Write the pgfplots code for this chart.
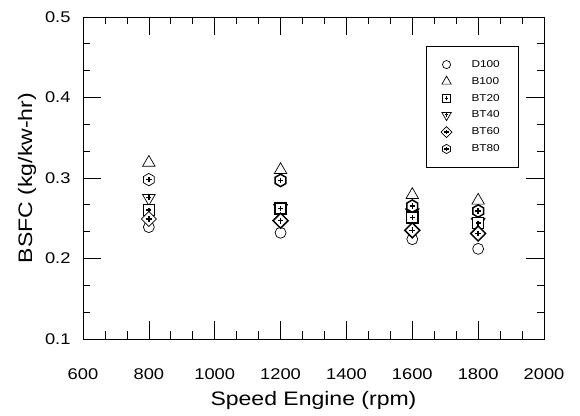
\documentclass[border=0pt]{standalone}
\usepackage{pgfplots}
\pgfplotsset{compat=1.18}
\usepackage{fontspec}
\setmainfont{Liberation Sans}[FakeStretch=1.18]

\newcommand{\innerplus}{%
  \pgfsetlinewidth{1.5pt}%
  \pgfpathmoveto{\pgfpoint{-0.45\pgfplotmarksize}{0pt}}%
  \pgfpathlineto{\pgfpoint{0.45\pgfplotmarksize}{0pt}}%
  \pgfpathmoveto{\pgfpoint{0pt}{-0.45\pgfplotmarksize}}%
  \pgfpathlineto{\pgfpoint{0pt}{0.45\pgfplotmarksize}}%
  \pgfusepathqstroke}
\pgfdeclareplotmark{sqp}{%
  \pgfpathrectangle{\pgfpoint{-\pgfplotmarksize}{-\pgfplotmarksize}}{\pgfpoint{2\pgfplotmarksize}{2\pgfplotmarksize}}%
  \pgfusepathqfillstroke\innerplus}
\pgfdeclareplotmark{itp}{%
  \pgfpathmoveto{\pgfqpointpolar{270}{1.2\pgfplotmarksize}}%
  \pgfpathlineto{\pgfqpointpolar{30}{1.2\pgfplotmarksize}}%
  \pgfpathlineto{\pgfqpointpolar{150}{1.2\pgfplotmarksize}}%
  \pgfpathclose\pgfusepathqfillstroke
  \pgfsetlinewidth{1.4pt}%
  \pgfpathmoveto{\pgfpoint{-0.4\pgfplotmarksize}{0.15\pgfplotmarksize}}%
  \pgfpathlineto{\pgfpoint{0.4\pgfplotmarksize}{0.15\pgfplotmarksize}}%
  \pgfpathmoveto{\pgfpoint{0pt}{-0.35\pgfplotmarksize}}%
  \pgfpathlineto{\pgfpoint{0pt}{0.55\pgfplotmarksize}}%
  \pgfusepathqstroke}
\pgfdeclareplotmark{dmp}{%
  \pgfpathmoveto{\pgfqpoint{0pt}{1.15\pgfplotmarksize}}%
  \pgfpathlineto{\pgfqpoint{1.15\pgfplotmarksize}{0pt}}%
  \pgfpathlineto{\pgfqpoint{0pt}{-1.15\pgfplotmarksize}}%
  \pgfpathlineto{\pgfqpoint{-1.15\pgfplotmarksize}{0pt}}%
  \pgfpathclose\pgfusepathqfillstroke\innerplus}
\pgfdeclareplotmark{hxp}{%
  \pgfpathmoveto{\pgfqpointpolar{90}{\pgfplotmarksize}}%
  \pgfpathlineto{\pgfqpointpolar{150}{\pgfplotmarksize}}%
  \pgfpathlineto{\pgfqpointpolar{210}{\pgfplotmarksize}}%
  \pgfpathlineto{\pgfqpointpolar{270}{\pgfplotmarksize}}%
  \pgfpathlineto{\pgfqpointpolar{330}{\pgfplotmarksize}}%
  \pgfpathlineto{\pgfqpointpolar{30}{\pgfplotmarksize}}%
  \pgfpathclose\pgfusepathqfillstroke\innerplus}

\begin{document}
\begin{tikzpicture}
\begin{axis}[
  name=ax,
  scale only axis,
  width=461pt, height=322pt,
  xmin=600, xmax=2000, ymin=0.1, ymax=0.5,
  xtick={600,800,...,2000},
  ytick={0.1,0.2,...,0.5},
  minor x tick num=2, minor y tick num=2,
  tick align=inside,
  major tick length=18pt, minor tick length=7.5pt,
  every tick/.style={black, line width=0.7pt},
  axis line style={line width=0.8pt},
  /pgf/number format/assume math mode=true,
  xticklabel style={font=\fontsize{15.5}{18}\selectfont, yshift=-26pt},
  yticklabel style={font=\fontsize{15.5}{18}\selectfont, xshift=-9pt},
  y tick label style={/pgf/number format/.cd, fixed, fixed zerofill, precision=1},
  scaled y ticks=false,
  x tick label style={/pgf/number format/.cd, set thousands separator={}},
  xlabel={Speed Engine (rpm)},
  ylabel={BSFC (kg/kw-hr)},
  xlabel style={font=\fontsize{19.5}{22}\selectfont, yshift=-5pt},
  ylabel style={font=\fontsize{19.5}{22}\selectfont, yshift=2pt},
  legend style={at={(0.946,0.910)}, anchor=north east, font=\fontsize{10}{12}\selectfont,
    draw=black, line width=0.7pt, inner xsep=8pt, inner ysep=12pt, row sep=4.4pt,
    cells={anchor=west}},
  legend image code/.code={\path[draw=none] (0pt,0pt) -- (35pt,0pt); \path[#1, draw=none, every mark/.append style={draw=black, fill=white, scale=0.74}] plot coordinates {(12pt,0pt)};},
  every axis plot/.append style={only marks, line width=0.7pt, mark options={fill=white, draw=black}},
]
% legend entries (in legend order)
\addlegendimage{only marks, line width=0.7pt, mark=o, mark size=5.5pt}
\addlegendentry{D100\hspace*{9pt}}
\addlegendimage{only marks, line width=0.7pt, mark=triangle*, mark size=7.2pt}
\addlegendentry{B100\hspace*{9pt}}
\addlegendimage{only marks, line width=0.7pt, mark=sqp, mark size=5.6pt}
\addlegendentry{BT20\hspace*{9pt}}
\addlegendimage{only marks, line width=0.7pt, mark=itp, mark size=6.1pt}
\addlegendentry{BT40\hspace*{9pt}}
\addlegendimage{only marks, line width=0.7pt, mark=dmp, mark size=6.5pt}
\addlegendentry{BT60\hspace*{9pt}}
\addlegendimage{only marks, line width=0.7pt, mark=hxp, mark size=6.2pt}
\addlegendentry{BT80\hspace*{9pt}}
% data (drawing order)
\addplot[forget plot, mark=o, mark size=5.5pt] coordinates {(800,0.239) (1200,0.232) (1600,0.224) (1800,0.212)};
\addplot[forget plot, mark=triangle*, mark size=7.2pt] coordinates {(800,0.319) (1200,0.310) (1600,0.279) (1800,0.272)};
\addplot[forget plot, mark=itp, mark size=6.1pt] coordinates {(800,0.275) (1200,0.262) (1600,0.257) (1800,0.245)};
\addplot[forget plot, mark=sqp, mark size=5.6pt] coordinates {(800,0.260) (1200,0.262) (1600,0.251) (1800,0.244)};
\addplot[forget plot, mark=dmp, mark size=6.5pt] coordinates {(800,0.249) (1200,0.247) (1600,0.235) (1800,0.231)};
\addplot[forget plot, mark=hxp, mark size=6.2pt] coordinates {(800,0.298) (1200,0.297) (1600,0.265) (1800,0.259)};
\end{axis}
\path ([shift={(-83pt,-77pt)}]ax.south west) rectangle ([shift={(36pt,17pt)}]ax.north east);
\end{tikzpicture}
\end{document}
